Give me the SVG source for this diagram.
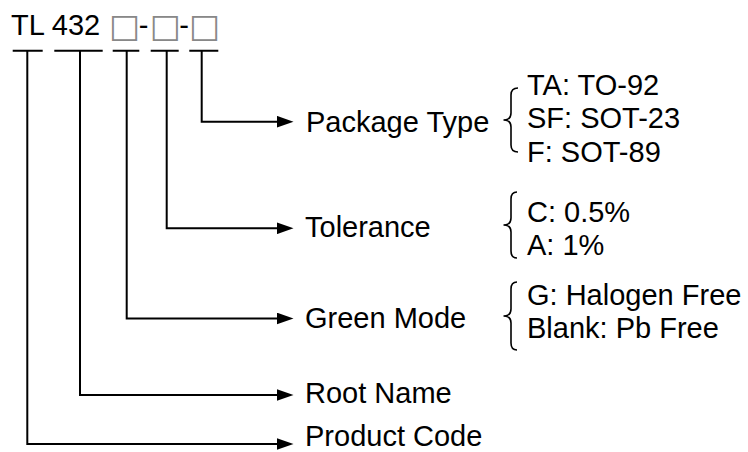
<svg xmlns="http://www.w3.org/2000/svg" width="748" height="452" viewBox="0 0 748 452">
<style>
text{font-family:"Liberation Sans",Arial,sans-serif;font-size:29px;fill:#000}
.bx{font-family:"DejaVu Sans",sans-serif;font-size:33px;fill:#888}
.ln{fill:none;stroke:#000;stroke-width:2}
.br{fill:none;stroke:#000;stroke-width:1.6}
</style>
<defs>
<marker id="ah" markerUnits="userSpaceOnUse" markerWidth="17" markerHeight="12" viewBox="0 0 17 12" refX="4" refY="6" orient="auto">
<path d="M0,0 L17,6 L0,12 z" fill="#000"/>
</marker>
</defs>
<rect width="748" height="452" fill="#fff"/>
<g id="title"><text x="11" y="35">TL 432 <tspan class="bx" dx="0.7" dy="1.5">□</tspan><tspan dx="-1.5" dy="-1.5">-</tspan><tspan class="bx" dx="1.3" dy="1.5">□</tspan><tspan dx="-1.5" dy="-1.5">-</tspan><tspan class="bx" dx="0" dy="1.5">□</tspan></text></g>
<g id="connectors">
<path class="ln" d="M12.7,50.7 H42.7 M27.3,50.7 V444 H280.5" marker-end="url(#ah)"/>
<path class="ln" d="M54.3,50.7 H102.7 M80,50.7 V395 H280.5" marker-end="url(#ah)"/>
<path class="ln" d="M112.7,50.7 H139.3 M126.7,50.7 V318.5 H280.5" marker-end="url(#ah)"/>
<path class="ln" d="M150.7,50.7 H178.7 M166.7,50.7 V228.3 H280.5" marker-end="url(#ah)"/>
<path class="ln" d="M189.3,50.7 H218.3 M201.7,50.7 V121.7 H280.5" marker-end="url(#ah)"/>
</g>
<g id="package-type">
<text x="306" y="131.5">Package Type</text>
<path class="br" d="M518,88 Q511,88 511,95 V113 Q511,120 503.5,120 Q511,120 511,127 V145 Q511,152 518,152"/>
<text x="527" y="95">TA: TO-92</text>
<text x="527" y="128.3">SF: SOT-23</text>
<text x="527" y="161.7">F: SOT-89</text>
</g>
<g id="tolerance">
<text x="305" y="236.7">Tolerance</text>
<path class="br" d="M517,192 Q511,192 511,199 V218 Q511,225 503.5,225 Q511,225 511,232 V251 Q511,258 517,258"/>
<text x="527" y="221.7">C: 0.5%</text>
<text x="527" y="255">A: 1%</text>
</g>
<g id="green-mode">
<text x="305" y="328.3">Green Mode</text>
<path class="br" d="M517,282 Q511,282 511,289 V309 Q511,316 503.5,316 Q511,316 511,323 V343 Q511,350 517,350"/>
<text x="527" y="305">G: Halogen Free</text>
<text x="527" y="338">Blank: Pb Free</text>
</g>
<g id="root-name"><text x="305" y="403.3">Root Name</text></g>
<g id="product-code"><text x="305" y="445.5">Product Code</text></g>
</svg>
